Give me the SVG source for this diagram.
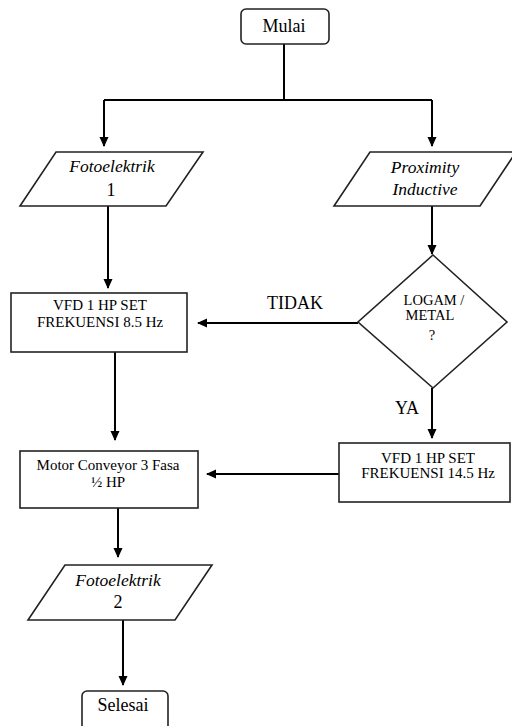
<svg xmlns="http://www.w3.org/2000/svg" width="512" height="726" viewBox="0 0 512 726">
<style>
.n{fill:#fff;stroke:#222;stroke-width:1.6}
.c{fill:none;stroke:#000;stroke-width:2}
text{font-family:"Liberation Serif","Times New Roman",serif;fill:#000;text-anchor:middle}
.t{font-size:18px}
.i{font-size:17.5px;font-style:italic}
.s{font-size:15px}
.d{font-size:14.5px}
.l{font-size:18px}
</style>
<defs>
<marker id="a" markerWidth="10" markerHeight="10" refX="9" refY="5" orient="auto" markerUnits="userSpaceOnUse">
<path d="M0,0.5 L10,5 L0,9.5 Z" fill="#000"/>
</marker>
</defs>
<g id="connectors">
<path class="c" d="M284,44 V100"/>
<path class="c" d="M104,100 H432"/>
<path class="c" d="M104,100 V146" marker-end="url(#a)"/>
<path class="c" d="M432,100 V146" marker-end="url(#a)"/>
<path class="c" d="M108,206 V288" marker-end="url(#a)"/>
<path class="c" d="M432,206 V254" marker-end="url(#a)"/>
<path class="c" d="M358,323 H198" marker-end="url(#a)"/>
<path class="c" d="M432,388 V438" marker-end="url(#a)"/>
<path class="c" d="M115,352 V440" marker-end="url(#a)"/>
<path class="c" d="M339,474 H207" marker-end="url(#a)"/>
<path class="c" d="M118,508 V557" marker-end="url(#a)"/>
<path class="c" d="M123,620 V685" marker-end="url(#a)"/>
</g>
<g id="mulai">
<rect class="n" x="241" y="9" width="88" height="35" rx="5"/>
<text class="t" x="284" y="32">Mulai</text>
</g>
<g id="foto1">
<polygon class="n" points="56,152 203,152 166,206 20,206"/>
<text class="i" x="112" y="172">Fotoelektrik</text>
<text class="t" x="111" y="196">1</text>
</g>
<g id="proximity">
<polygon class="n" points="370,152 516,152 480,206 334,206"/>
<text class="i" x="425" y="173">Proximity</text>
<text class="i" x="425" y="195">Inductive</text>
</g>
<g id="decision">
<polygon class="n" points="433,255 507,322 433,388 358,322"/>
<text class="d" x="434" y="305">LOGAM /</text>
<text class="d" x="430" y="320">METAL</text>
<text class="d" x="432" y="340">?</text>
</g>
<g id="vfd85">
<rect class="n" x="11" y="293" width="176" height="59"/>
<text class="s" x="100" y="310">VFD 1 HP SET</text>
<text class="s" x="100" y="327">FREKUENSI 8.5 Hz</text>
</g>
<g id="motor">
<rect class="n" x="20" y="451" width="178" height="57"/>
<text class="s" x="108" y="470">Motor Conveyor 3 Fasa</text>
<text class="s" x="108" y="487">½ HP</text>
</g>
<g id="vfd145">
<rect class="n" x="339" y="443" width="171" height="59"/>
<text class="s" x="428" y="463">VFD 1 HP SET</text>
<text class="s" x="428" y="478">FREKUENSI 14.5 Hz</text>
</g>
<g id="foto2">
<polygon class="n" points="65,565 212,565 175,620 28,620"/>
<text class="i" x="118" y="586">Fotoelektrik</text>
<text class="t" x="118" y="608">2</text>
</g>
<g id="selesai">
<rect class="n" x="82" y="691" width="86" height="40" rx="5"/>
<text class="t" x="123" y="711">Selesai</text>
</g>
<g id="labels">
<text class="l" x="295" y="309">TIDAK</text>
<text class="l" x="407" y="414">YA</text>
</g>
</svg>
